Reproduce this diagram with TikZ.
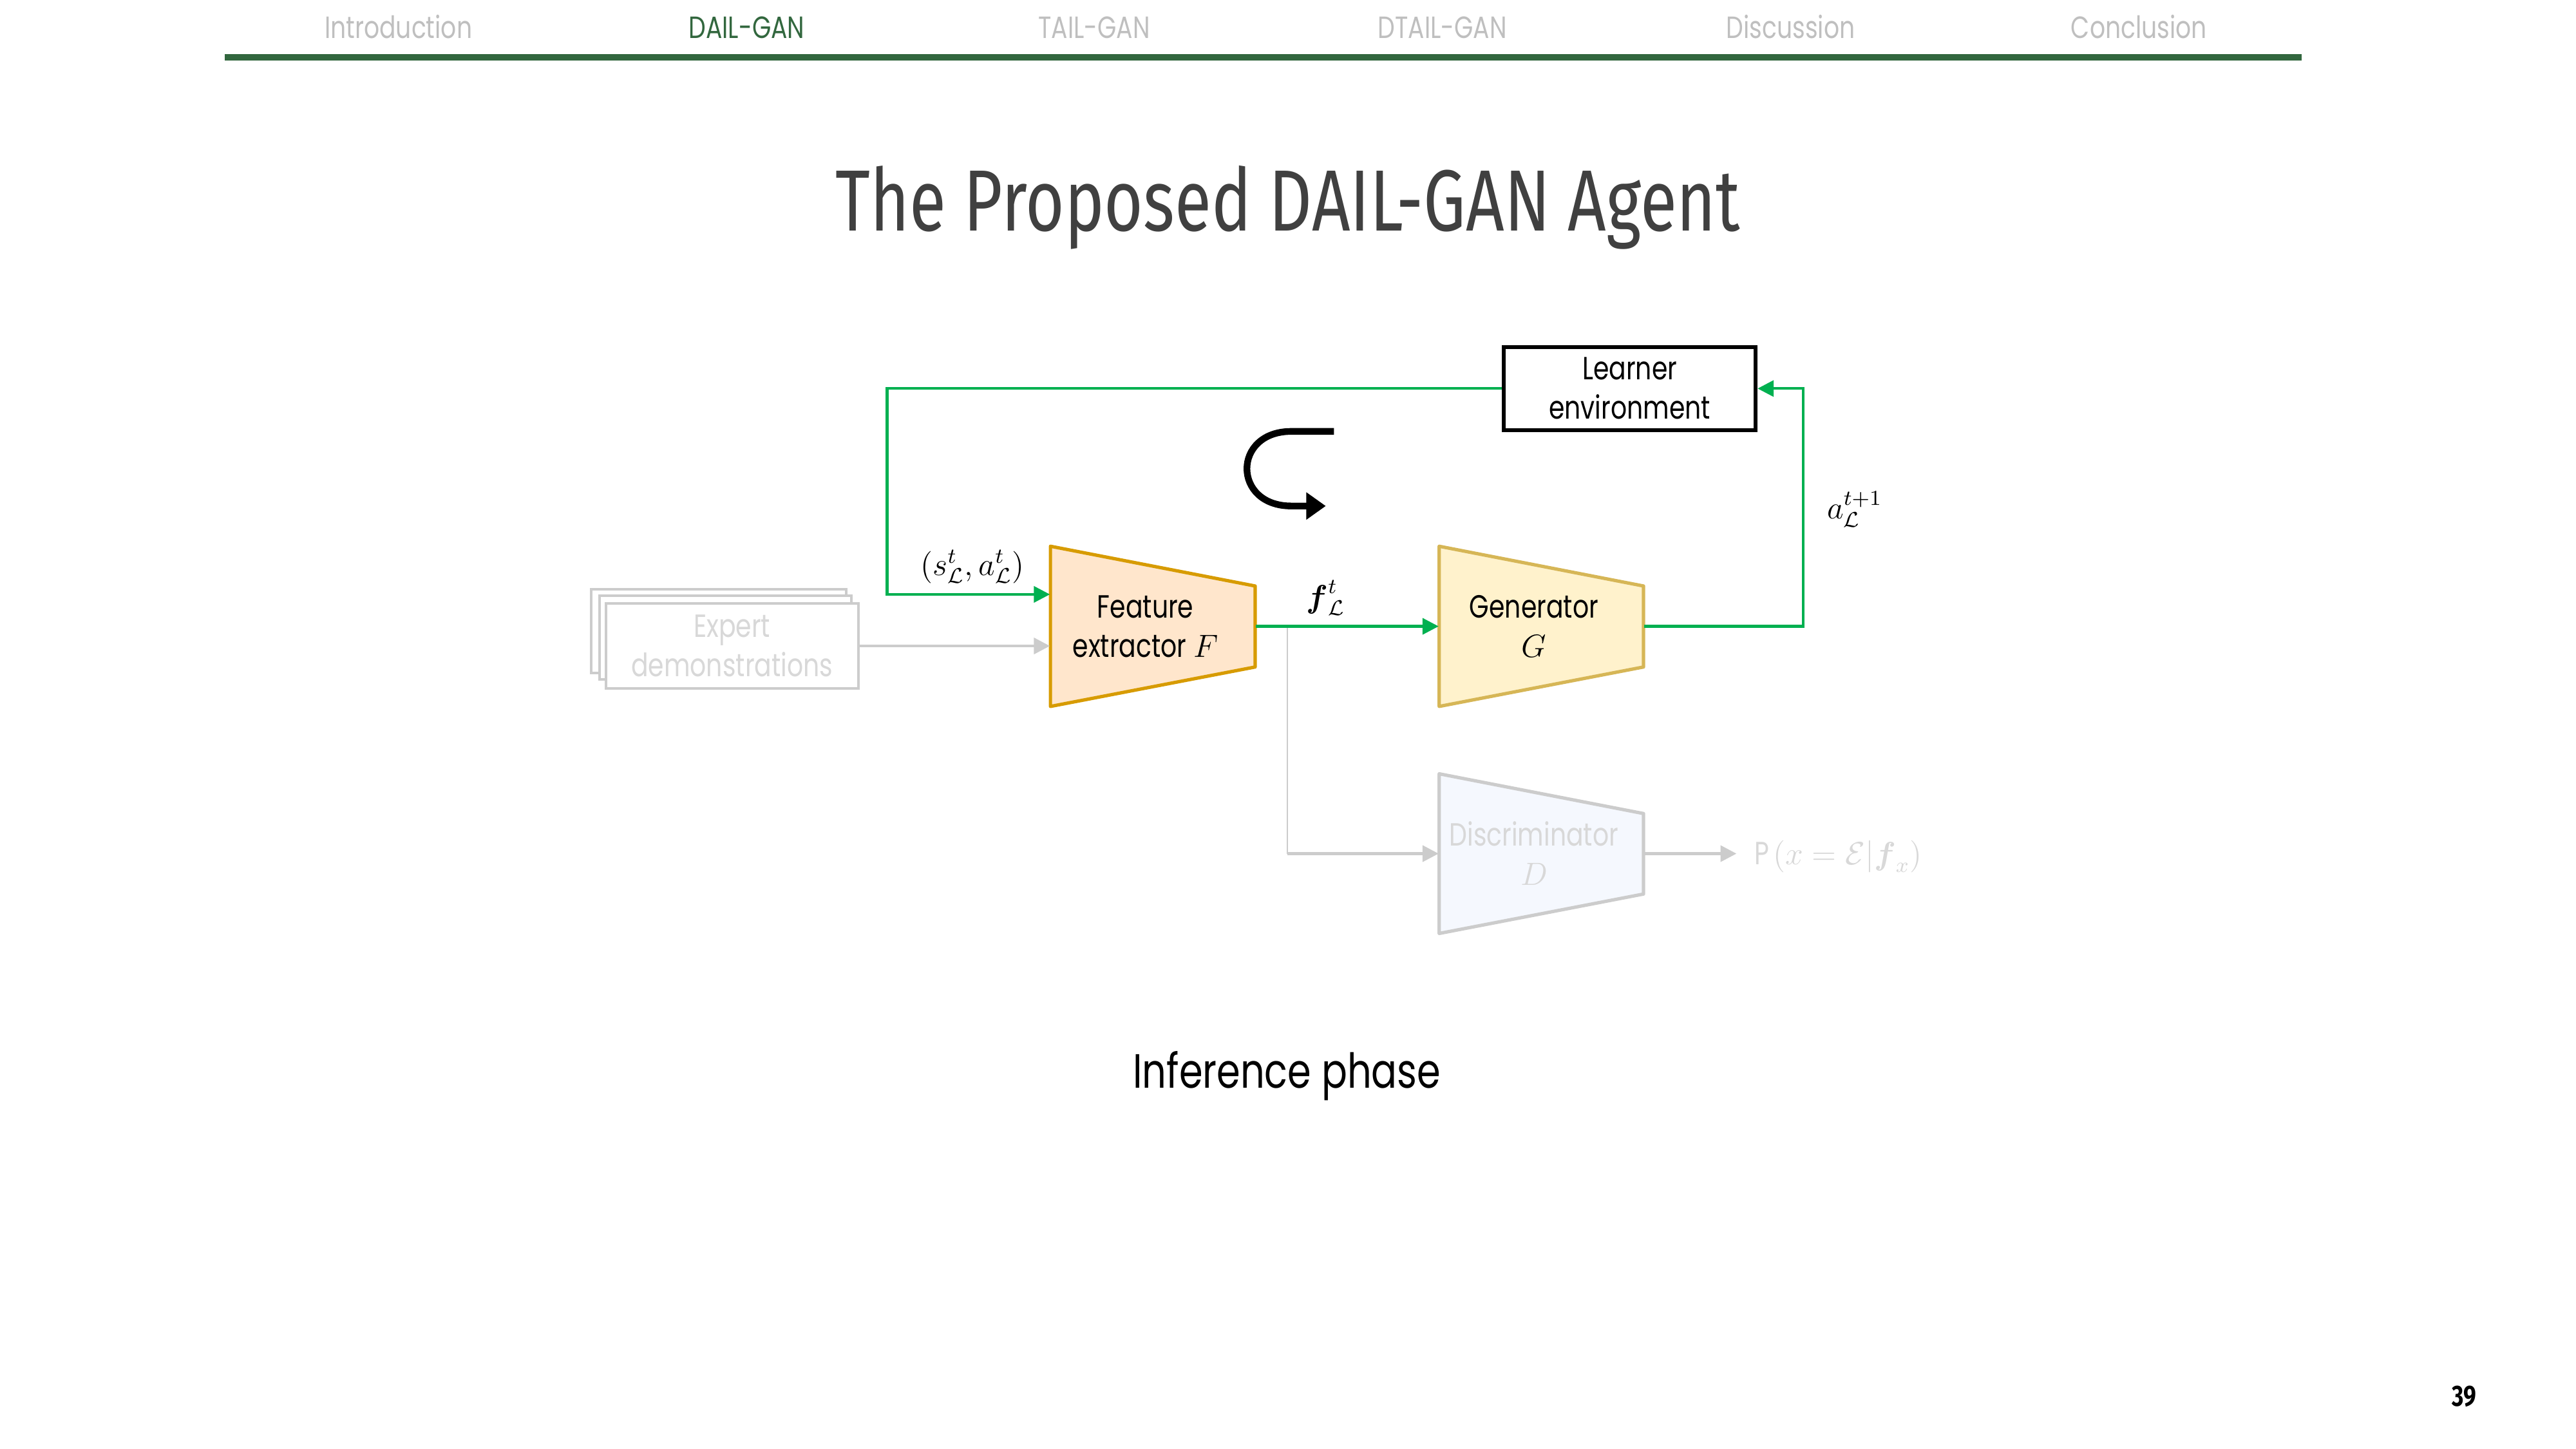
\documentclass[tikz,border=0pt]{standalone}
\usepackage{amsmath}
\usepackage{amssymb}
\usepackage{fontspec}
\setmainfont{Poppins}[FakeStretch=0.79]
\newfontfamily\titlefont{Fira Sans}[FakeStretch=0.772]
\usetikzlibrary{arrows.meta,fit,calc,positioning}

\definecolor{navgray}{RGB}{191,191,191}
\definecolor{navgreen}{RGB}{50,103,62}
\definecolor{titlegray}{RGB}{64,64,64}
\definecolor{flowgreen}{RGB}{0,176,80}
\definecolor{featfill}{RGB}{255,230,204}
\definecolor{featline}{RGB}{215,155,0}
\definecolor{genfill}{RGB}{255,242,204}
\definecolor{genline}{RGB}{214,182,86}
\definecolor{discfill}{RGB}{245,248,254}
\definecolor{fadeline}{RGB}{204,204,204}
\definecolor{fadetext}{RGB}{216,216,216}

\begin{document}
\begin{tikzpicture}[x=0.21599mm, y=-0.21599mm,
    >={Triangle[length=6pt,width=6pt]},
    nav/.style={font=\fontsize{11.5}{14}\selectfont, text=navgray, anchor=base},
    txt/.style={font=\fontsize{12}{14.7}\selectfont, align=center},
    lbl/.style={font=\fontsize{12}{14}\selectfont},
    envbox/.style={txt, draw, line width=1.5pt, minimum width=33.1mm,
      minimum height=10.9mm, inner sep=0pt},
    expbox/.style={draw=fadeline, fill=white, line width=1pt},
    trapframe/.style={inner sep=0pt},
    featshape/.style={draw=featline, fill=featfill, line width=1.25pt, line join=round},
    genshape/.style={draw=genline, fill=genfill, line width=1.25pt, line join=round},
    discshape/.style={draw=fadeline, fill=discfill, line width=1.25pt, line join=round},
    flow/.style={draw=flowgreen, line width=1pt},
    graylink/.style={draw=fadeline, line width=1.1pt},
    thinlink/.style={draw=fadeline, line width=0.55pt}]

    \useasboundingbox (0,0) rectangle (1568,882);

    % header
    \node[nav] (nav1) at (242.5,23.5) {Introduction};
    \node[nav, text=navgreen] (nav2) at (454.5,23.5) {DAIL-GAN};
    \node[nav] (nav3) at (666,23.5) {TAIL-GAN};
    \node[nav] (nav4) at (878,23.5) {DTAIL-GAN};
    \node[nav] (nav5) at (1090,23.5) {Discussion};
    \node[nav] (nav6) at (1302,23.5) {Conclusion};
    \fill[navgreen] (136.8,33) rectangle (1401,36.8);

    \node[font=\titlefont\fontsize{32.5}{38}\selectfont, text=titlegray, anchor=base]
      (title) at (784,140.7) {The Proposed DAIL-GAN Agent};

    % expert stack
    \draw[expbox] (360,358.7) rectangle (515,409.6);
    \draw[expbox] (364.8,362.6) rectangle (518.3,413.6);
    \node[txt, expbox, text=fadetext, minimum width=33.2mm, minimum height=11.2mm,
      inner sep=0pt] (expert) at (445.6,393.2) {Expert\\demonstrations};

    % networks
    \draw[featshape] (639.4,332.5) -- (764,356.7) -- (764,406) -- (639.4,430) -- cycle;
    \node[fit={(639.4,332.5) (764,430)}, trapframe] (feat) {};
    \node[txt, xshift=-0.97mm] (feattext) at (feat.center) {Feature\\extractor $F$};

    \draw[genshape] (876,332.5) -- (1000.4,356.7) -- (1000.4,406) -- (876,430) -- cycle;
    \node[fit={(876,332.5) (1000.4,430)}, trapframe] (gen) {};
    \node[txt, xshift=-0.97mm] (gentext) at (gen.center) {Generator\\$G$};

    \draw[discshape] (876,471) -- (1000.4,495.2) -- (1000.4,544.2) -- (876,568.2) -- cycle;
    \node[fit={(876,471) (1000.4,568.2)}, trapframe] (disc) {};
    \node[txt, text=fadetext, xshift=-0.97mm] (disctext) at (disc.center)
      {Discriminator\\$D$};

    \node[envbox] (env) at (992,236.5) {Learner\\environment};

    \node[lbl, text=fadetext, anchor=base west, inner xsep=2.3mm, inner ysep=0pt]
      (pout) at (1057,526.2) {$\mathrm{P}(x=\mathcal{E}|\boldsymbol{f}_x)$};

    % labels
    \node[lbl] (sa) at (592,345) {$(s^t_{\mathcal{L}},a^t_{\mathcal{L}})$};
    \node[lbl] (flab) at (807,364) {$\boldsymbol{f}^t_{\mathcal{L}}$};
    \node[lbl] (alab) at (1129,310) {$a^{t+1}_{\mathcal{L}}$};

    \coordinate (loop) at (540,361.8);
    \coordinate (ret) at (1097.5,236.5);
    \coordinate (split) at (783.6,381.25);

    % connectors
    \draw[->, graylink] (expert.east) -- (expert.east -| feat.west);
    \draw[thinlink] (split) -- (split |- disc.west);
    \draw[->, graylink] (split |- disc.west) -- (disc.west);
    \draw[->, graylink] (disc.east) -- (disc.east -| pout.west);
    \draw[->, flow] (env.west) -| (loop) -- (loop -| feat.west);
    \draw[->, flow] (feat.east) -- (gen.west);
    \draw[->, flow] (gen.east) -| (ret) -- (env.east);

    % loop sign
    \draw[line width=2.5pt, -{Triangle[length=7.3pt,width=9.8pt]}]
      (812,262.6) -- (786,262.6) .. controls (750,262.6) and (750,308) .. (786,308) -- (807,308);

    \node[font=\fontsize{18}{22}\selectfont, anchor=base] (phase) at (783.3,662.3)
      {Inference phase};
    \node[font=\titlefont\bfseries\fontsize{11}{13}\selectfont, anchor=base] (page)
      at (1500,856) {39};
\end{tikzpicture}
\end{document}
